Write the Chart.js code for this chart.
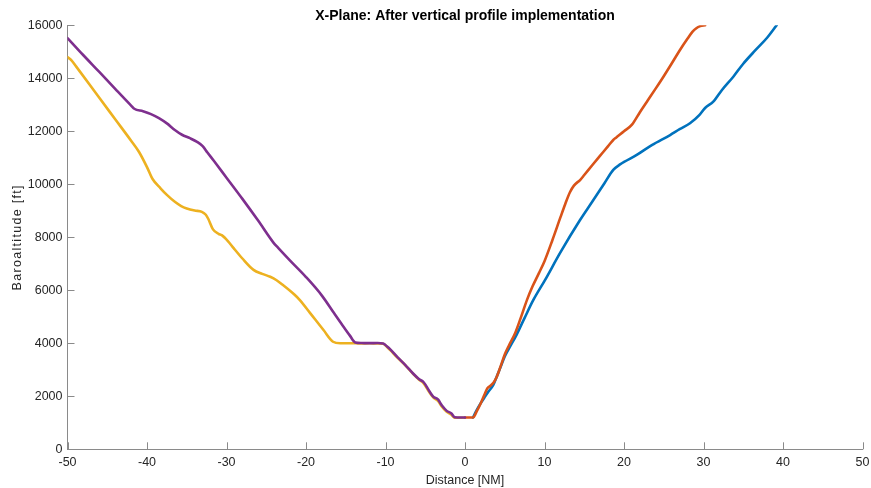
<!DOCTYPE html>
<html>
<head>
<meta charset="utf-8">
<script src="https://cdn.jsdelivr.net/npm/chart.js@4/dist/chart.umd.min.js"></script>
<style>
  html, body { margin: 0; padding: 0; background: #ffffff; }
  #wrap { width: 871px; height: 488px; }
</style>
</head>
<body>
<div id="wrap"><canvas id="c" width="871" height="488"></canvas></div>
<script>
// Descent profile 1 (drawn on top)
const descent1Dist = [-50, -48, -46, -44, -42, -41.6, -40.5, -39.5, -38.5, -37.5, -36.5, -35.6, -34.6, -33.7, -33, -32.4, -31.5, -30, -28, -26, -24.1, -23.5, -22, -20, -18, -16.5, -15.5, -14.5, -13.8, -13, -12, -11, -10.3, -9.8, -9.4, -8.5, -7.5, -6.5, -5.8, -5.2, -4.5, -4.0, -3.4, -2.9, -2.3, -1.7, -1.3, -0.5, 0];
const descent1Alt  = [15520, 14870, 14240, 13600, 12970, 12850, 12760, 12650, 12500, 12300, 12050, 11870, 11740, 11600, 11440, 11200, 10850, 10250, 9450, 8620, 7800, 7600, 7120, 6500, 5800, 5150, 4720, 4300, 4030, 4010, 4005, 4010, 3990, 3880, 3770, 3480, 3180, 2850, 2650, 2530, 2200, 1990, 1880, 1650, 1450, 1350, 1210, 1200, 1200];

// Descent profile 2
const descent2Dist = [-50, -49.5, -48.9, -46, -44, -42, -41, -40, -39.3, -38.3, -37.5, -36.5, -35.7, -35, -34, -33.1, -32.6, -32.3, -31.7, -31, -30.6, -29.8, -29.1, -28, -26.6, -25.5, -24.5, -23.7, -22.9, -21.5, -20.8, -19.5, -17.8, -16.6, -15.7, -14.5, -13.8, -13, -12, -11, -10.3, -9.8, -9.4, -8.5, -7.5, -6.5, -5.8, -5.2, -4.5, -4.0, -3.4, -2.9, -2.3, -1.7, -1.3, -0.5, 0];
const descent2Alt  = [14800, 14680, 14440, 13265, 12455, 11645, 11220, 10650, 10200, 9850, 9600, 9340, 9180, 9090, 9010, 8960, 8850, 8700, 8300, 8130, 8080, 7850, 7590, 7200, 6770, 6620, 6510, 6380, 6200, 5850, 5640, 5150, 4500, 4060, 4000, 4000, 4000, 3990, 4000, 3990, 3980, 3860, 3740, 3460, 3170, 2840, 2630, 2490, 2160, 1960, 1830, 1610, 1420, 1300, 1190, 1190, 1190];

// Climb profile 1 (drawn on top of climb profile 2)
const climb1Dist = [0, 1.0, 1.5, 2.0, 2.5, 2.8, 3.2, 3.6, 4.0, 4.5, 5.0, 5.5, 6.3, 7.0, 7.8, 8.5, 9.3, 10, 11, 12, 12.6, 13.2, 13.7, 14.5, 15, 16, 17, 18, 18.65, 19, 20, 21, 22, 23, 24, 25, 26, 27, 28, 28.6, 29.1, 29.6, 30.2];
const climb1Alt  = [1200, 1200, 1450, 1750, 2100, 2300, 2400, 2520, 2740, 3150, 3580, 3900, 4380, 4950, 5640, 6150, 6650, 7100, 7900, 8750, 9250, 9700, 9950, 10170, 10350, 10720, 11080, 11440, 11673, 11760, 12000, 12250, 12720, 13170, 13620, 14080, 14560, 15050, 15500, 15750, 15890, 15970, 16000];

// Climb profile 2
const climb2Dist = [1.0, 1.47, 2.0, 2.5, 2.93, 3.56, 4.0, 4.5, 5.0, 5.66, 6.5, 7.5, 8.6, 10.06, 12, 14.47, 16, 17.5, 18.65, 19.5, 21.6, 23.5, 25.8, 27, 28.3, 29.5, 30.2, 31.23, 32.3, 33.75, 35, 36.5, 38, 39.2];
const climb2Alt  = [1200, 1480, 1750, 1980, 2170, 2430, 2750, 3120, 3500, 3870, 4330, 4960, 5635, 6385, 7430, 8651, 9340, 10020, 10541, 10750, 11107, 11480, 11860, 12080, 12303, 12620, 12880, 13120, 13550, 14060, 14550, 15050, 15530, 16000];

// Axis ticks
const distTicks = [-50, -40, -30, -20, -10, 0, 10, 20, 30, 40, 50];
const altTicks  = [0, 2000, 4000, 6000, 8000, 10000, 12000, 14000, 16000];

const toPoints = (xs, ys) => xs.map((x, i) => ({ x: x, y: ys[i] }));

const FONT = "'Liberation Sans', Arial, Helvetica, sans-serif";
const AXIS_COLOR = '#8a8a8a';
const TEXT_COLOR = '#262626';

// Short inward tick marks on the bottom and left axes
const innerTicks = {
  id: 'innerTicks',
  afterDraw(chart) {
    const { ctx, chartArea, scales } = chart;
    const len = 7;
    ctx.save();
    ctx.strokeStyle = AXIS_COLOR;
    ctx.lineWidth = 1;
    ctx.beginPath();
    distTicks.forEach(v => {
      const px = Math.round(scales.x.getPixelForValue(v)) + 0.5;
      ctx.moveTo(px, chartArea.bottom);
      ctx.lineTo(px, chartArea.bottom - len);
    });
    altTicks.forEach(v => {
      const py = Math.round(scales.y.getPixelForValue(v)) + 0.5;
      ctx.moveTo(chartArea.left, py);
      ctx.lineTo(chartArea.left + len, py);
    });
    ctx.stroke();
    ctx.restore();
  }
};

const lineStyle = (color) => ({
  borderColor: color,
  backgroundColor: color,
  borderWidth: 2.6,
  pointRadius: 0,
  pointHoverRadius: 0,
  fill: false,
  tension: 0,
  cubicInterpolationMode: 'monotone',
  borderJoinStyle: 'round',
  borderCapStyle: 'round'
});

new Chart(document.getElementById('c'), {
  type: 'line',
  data: {
    datasets: [
      Object.assign({ label: 'Descent 1', data: toPoints(descent1Dist, descent1Alt) }, lineStyle('#7E2F8E')),
      Object.assign({ label: 'Climb 1',   data: toPoints(climb1Dist, climb1Alt) },     lineStyle('#D95319')),
      Object.assign({ label: 'Descent 2', data: toPoints(descent2Dist, descent2Alt) }, lineStyle('#EDB120')),
      Object.assign({ label: 'Climb 2',   data: toPoints(climb2Dist, climb2Alt) },     lineStyle('#0072BD'))
    ]
  },
  options: {
    responsive: false,
    animation: false,
    events: [],
    layout: { padding: { left: 0, right: 8.5, top: 0, bottom: 0 } },
    plugins: {
      legend: { display: false },
      tooltip: { enabled: false },
      title: {
        display: true,
        fullSize: false,
        text: 'X-Plane: After vertical profile implementation',
        color: '#000000',
        font: { family: FONT, size: 14, weight: 'bold', lineHeight: 1 },
        padding: { top: 9.5, bottom: 1.8 }
      }
    },
    scales: {
      x: {
        type: 'linear',
        min: -50,
        max: 50,
        afterBuildTicks: (scale) => { scale.ticks = distTicks.map(v => ({ value: v })); },
        afterFit: (scale) => {
          scale.height = 38.7;
          scale.paddingLeft = 0;
          scale.paddingRight = 0;
        },
        grid: { display: false, drawTicks: false },
        border: { display: true, color: AXIS_COLOR, width: 1 },
        ticks: {
          color: TEXT_COLOR,
          font: { family: FONT, size: 12.5 },
          padding: 6.2,
          maxRotation: 0,
          autoSkip: false,
          callback: (v) => String(v)
        },
        title: {
          display: true,
          text: 'Distance [NM]',
          color: TEXT_COLOR,
          font: { family: FONT, size: 12.5 },
          padding: { top: 0, bottom: 0 }
        }
      },
      y: {
        type: 'linear',
        min: 0,
        max: 16000,
        afterBuildTicks: (scale) => { scale.ticks = altTicks.map(v => ({ value: v })); },
        afterFit: (scale) => {
          scale.width = 67.5;
          scale.paddingTop = 0;
          scale.paddingBottom = 0;
          // rotated axis title is set with slightly looser letter spacing
          if (!scale._spacedTitle) {
            const drawTitle = scale.drawTitle;
            scale.drawTitle = function () {
              const ctx = this.ctx;
              ctx.save();
              ctx.letterSpacing = '1.3px';
              drawTitle.apply(this, arguments);
              ctx.restore();
            };
            scale._spacedTitle = true;
          }
        },
        grid: { display: false, drawTicks: false },
        border: { display: true, color: AXIS_COLOR, width: 1 },
        ticks: {
          color: TEXT_COLOR,
          font: { family: FONT, size: 12.5 },
          padding: 5,
          autoSkip: false,
          callback: (v) => String(v)
        },
        title: {
          display: true,
          text: 'Baroaltitude [ft]',
          color: TEXT_COLOR,
          font: { family: FONT, size: 12.5 },
          padding: { top: 10.5, bottom: 0 }
        }
      }
    }
  },
  plugins: [innerTicks]
});
</script>
</body>
</html>
